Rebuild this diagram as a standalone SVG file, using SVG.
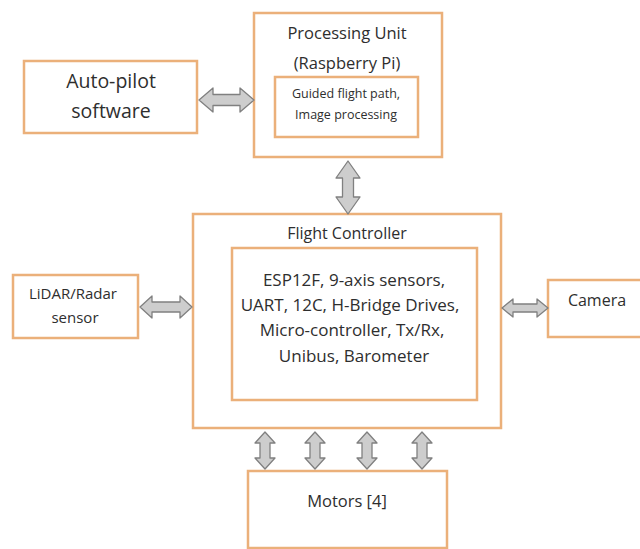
<svg xmlns="http://www.w3.org/2000/svg" width="640" height="549" viewBox="0 0 640 549">
<style>
.box{fill:#fff;stroke:#EBB07A;stroke-width:2.5}
.arr{fill:#CDCDCD;stroke:#808080;stroke-width:1.3;stroke-linejoin:round}
text{font-family:"Open Sans","Noto Sans",sans-serif;fill:#2E2E2E;text-anchor:middle;dominant-baseline:central}
</style>
<rect width="640" height="549" fill="#fff"/>
<g id="autopilot">
<rect class="box" x="24" y="61" width="173" height="72"/>
<text x="111" y="80" font-size="19.5">Auto-pilot</text>
<text x="111" y="110" font-size="19.5">software</text>
</g>
<g id="processing-unit">
<rect class="box" x="254" y="13" width="188" height="144"/>
<text x="347" y="32" font-size="16.5">Processing Unit</text>
<text x="347" y="62" font-size="16.5">(Raspberry Pi)</text>
<rect class="box" x="275" y="77" width="143" height="60"/>
<text x="346" y="93" font-size="12.5">Guided flight path,</text>
<text x="346" y="114" font-size="12.5">Image processing</text>
</g>
<g id="flight-controller">
<rect class="box" x="193" y="214" width="308" height="214"/>
<text x="347" y="233" font-size="16">Flight Controller</text>
<rect class="box" x="232" y="248" width="245" height="152"/>
<text x="354" y="279" font-size="17">ESP12F, 9-axis sensors,</text>
<text x="350" y="304" font-size="17">UART, 12C, H-Bridge Drives,</text>
<text x="352" y="329" font-size="17">Micro-controller, Tx/Rx,</text>
<text x="354" y="355" font-size="17">Unibus, Barometer</text>
</g>
<g id="lidar">
<rect class="box" x="13" y="275" width="125" height="63"/>
<text x="73" y="293" font-size="15">LiDAR/Radar</text>
<text x="75" y="317" font-size="15">sensor</text>
</g>
<g id="camera">
<rect class="box" x="548" y="280" width="95" height="57"/>
<text x="597" y="300" font-size="16">Camera</text>
</g>
<g id="motors">
<rect class="box" x="248" y="471" width="199" height="77"/>
<text x="347" y="500" font-size="16.5">Motors [4]</text>
</g>
<g id="connectors">
<path class="arr" d="M199 100 L213 88 L213 94.5 L240 94.5 L240 88 L254 100 L240 112 L240 105.5 L213 105.5 L213 112 Z"/>
<path class="arr" d="M348 161 L360 178 L353.5 178 L353.5 197 L360 197 L348 214 L336 197 L342.5 197 L342.5 178 L336 178 Z"/>
<path class="arr" d="M140 307 L152 296 L152 302 L180 302 L180 296 L192 307 L180 318 L180 312 L152 312 L152 318 Z"/>
<path class="arr" d="M502 308 L513 299 L513 304 L537 304 L537 299 L548 308 L537 317 L537 312 L513 312 L513 317 Z"/>
<path class="arr" d="M265 432 L275 443 L270 443 L270 458 L275 458 L265 469 L255 458 L260 458 L260 443 L255 443 Z"/>
<path class="arr" d="M315 432 L325 443 L320 443 L320 458 L325 458 L315 469 L305 458 L310 458 L310 443 L305 443 Z"/>
<path class="arr" d="M367 432 L377 443 L372 443 L372 458 L377 458 L367 469 L357 458 L362 458 L362 443 L357 443 Z"/>
<path class="arr" d="M422 432 L432 443 L427 443 L427 458 L432 458 L422 469 L412 458 L417 458 L417 443 L412 443 Z"/>
</g>
</svg>
